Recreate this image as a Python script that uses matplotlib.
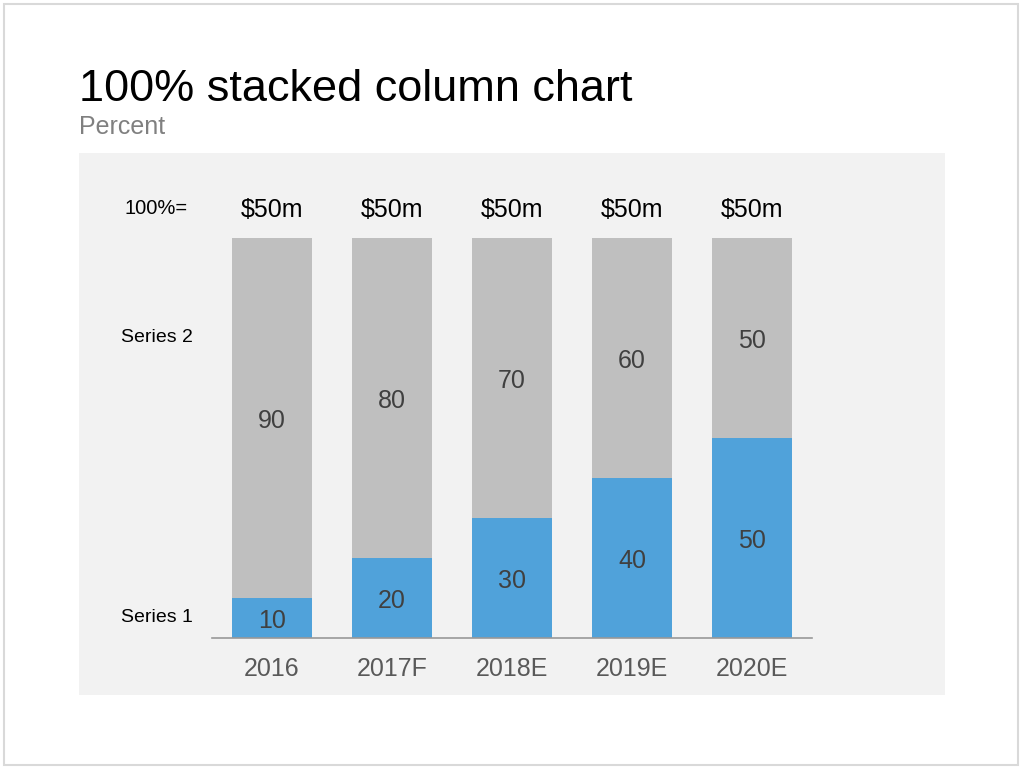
import matplotlib
matplotlib.use("Agg")
import matplotlib.pyplot as plt
from matplotlib.patches import Rectangle
import numpy as np

plt.rcParams['font.family'] = ['Liberation Sans', 'DejaVu Sans']

categories = ["2016", "2017F", "2018E", "2019E", "2020E"]
series1 = [10, 20, 30, 40, 50]
series2 = [90, 80, 70, 60, 50]
totals = ["$50m", "$50m", "$50m", "$50m", "$50m"]
series_names = ["Series 1", "Series 2"]

W, H = 1024, 769
fig = plt.figure(figsize=(W / 100, H / 100), dpi=100)
fig.patch.set_facecolor("white")

def fx(px):
    return px / W

def fy(py):
    return 1 - py / H

# outer border
fig.add_artist(Rectangle((fx(4), fy(765)), fx(1018) - fx(4), fy(4) - fy(765),
                         transform=fig.transFigure, facecolor="none",
                         edgecolor="#D9D9D9", linewidth=1.5))
# grey panel
fig.add_artist(Rectangle((fx(79), fy(695)), fx(945) - fx(79), fy(153) - fy(695),
                         transform=fig.transFigure, facecolor="#F2F2F2",
                         edgecolor="none", zorder=0))

fig.text(fx(79), fy(101), "100% stacked column chart", fontsize=32.5,
         color="black", va="baseline", ha="left")
fig.text(fx(79), fy(134), "Percent", fontsize=18, color="#808080",
         va="baseline", ha="left")

ax = fig.add_axes([fx(212), fy(638), fx(812) - fx(212), fy(238) - fy(638)])
ax.set_facecolor("none")
x = np.arange(len(categories))
blue = "#50A2DA"
grey = "#BFBFBF"
ax.bar(x, series1, width=0.667, color=blue, zorder=2)
ax.bar(x, series2, width=0.667, bottom=series1, color=grey, zorder=2)

shift = -0.8  # small downward nudge in data units for visual centring
for i in range(len(categories)):
    ax.text(x[i], series1[i] / 2 + shift, str(series1[i]), ha="center", va="center",
            fontsize=18, color="#404040", zorder=3)
    ax.text(x[i], series1[i] + series2[i] / 2 + shift, str(series2[i]), ha="center",
            va="center", fontsize=18, color="#404040", zorder=3)
    ax.text(x[i], 107.5 - 0.5, totals[i], ha="center", va="center", fontsize=18,
            color="black", clip_on=False)

ax.set_xlim(-0.5, 4.5)
ax.set_ylim(0, 100)
for s in ["top", "right", "left"]:
    ax.spines[s].set_visible(False)
ax.spines["bottom"].set_color("#999999")
ax.spines["bottom"].set_linewidth(1.2)
ax.set_yticks([])
ax.set_xticks(x)
ax.set_xticklabels(categories, fontsize=18, color="#595959")
ax.tick_params(axis="x", length=0, pad=14)

fig.text(fx(125), fy(209), "100%=", fontsize=14.5, color="black",
         va="center", ha="left")
fig.text(fx(121), fy(617), series_names[0], fontsize=14, color="black",
         va="center", ha="left")
fig.text(fx(121), fy(338), series_names[1], fontsize=14, color="black",
         va="center", ha="left")

fig.savefig("out.png", dpi=100)
